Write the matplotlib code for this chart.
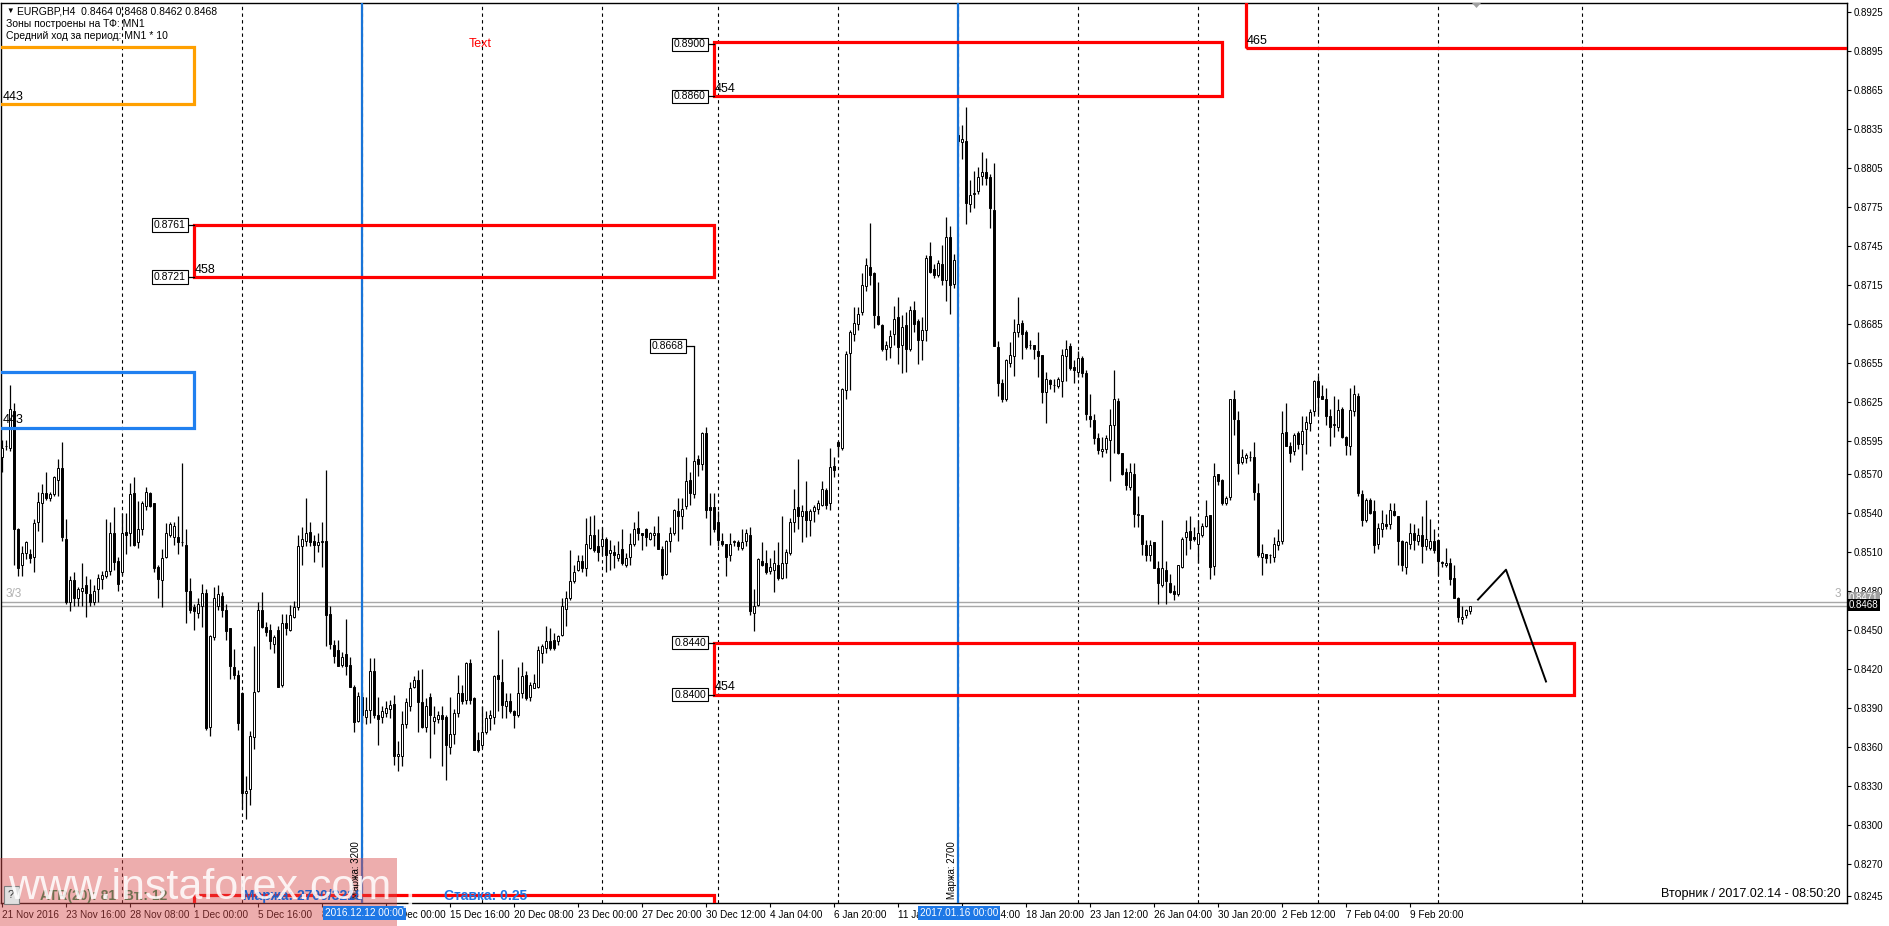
import numpy as np
import matplotlib.pyplot as plt
from matplotlib.patches import Rectangle, Polygon

# EURGBP H4 candles, prices in 1/10000
opens = [8583, 8591, 8590, 8618, 8527, 8500, 8509, 8508, 8506, 8533, 8547, 8555, 8551, 8554, 8565, 8574, 8520, 8471, 8488, 8474,
         8480, 8484, 8477, 8471, 8481, 8489, 8491, 8495, 8524, 8503, 8494, 8525, 8524, 8555, 8517, 8527, 8545, 8555, 8547, 8498,
         8488, 8506, 8523, 8521, 8521, 8517, 8515, 8480, 8467, 8463, 8468, 8478, 8375, 8444, 8468, 8476, 8465, 8451, 8421, 8415,
         8401, 8324, 8327, 8367, 8403, 8465, 8452, 8450, 8439, 8450, 8407, 8455, 8450, 8460, 8467, 8514, 8518, 8525, 8518, 8515,
         8517, 8518, 8462, 8438, 8434, 8423, 8431, 8423, 8406, 8380, 8398, 8383, 8388, 8418, 8384, 8383, 8386, 8389, 8393, 8353,
         8353, 8377, 8391, 8406, 8411, 8394, 8375, 8398, 8380, 8381, 8384, 8383, 8360, 8370, 8386, 8401, 8396, 8424, 8397, 8365,
         8361, 8371, 8382, 8383, 8415, 8410, 8391, 8395, 8387, 8384, 8401, 8415, 8398, 8405, 8406, 8432, 8436, 8441, 8442, 8441,
         8446, 8466, 8474, 8487, 8496, 8503, 8497, 8513, 8523, 8514, 8514, 8520, 8509, 8510, 8505, 8512, 8500, 8506, 8516, 8528,
         8524, 8527, 8520, 8523, 8524, 8512, 8493, 8518, 8524, 8541, 8537, 8545, 8565, 8554, 8581, 8577, 8601, 8544, 8544, 8533,
         8518, 8516, 8507, 8517, 8517, 8513, 8518, 8523, 8463, 8469, 8503, 8501, 8495, 8496, 8500, 8490, 8501, 8509, 8533, 8544,
         8537, 8541, 8534, 8541, 8543, 8546, 8557, 8547, 8576, 8594, 8590, 8634, 8663, 8677, 8685, 8694, 8714, 8729, 8724, 8691,
         8684, 8666, 8667, 8677, 8690, 8669, 8684, 8666, 8696, 8687, 8673, 8680, 8737, 8727, 8723, 8731, 8719, 8752, 8716, 8830,
         8825, 8826, 8777, 8785, 8787, 8799, 8802, 8798, 8773, 8667, 8640, 8627, 8655, 8660, 8679, 8686, 8679, 8669, 8669, 8664,
         8661, 8633, 8642, 8638, 8637, 8641, 8660, 8668, 8652, 8648, 8659, 8647, 8614, 8611, 8597, 8587, 8589, 8596, 8607, 8626,
         8586, 8571, 8560, 8570, 8538, 8538, 8515, 8507, 8517, 8497, 8484, 8496, 8486, 8480, 8477, 8498, 8521, 8526, 8521, 8516,
         8523, 8530, 8538, 8499, 8570, 8565, 8547, 8552, 8627, 8611, 8579, 8582, 8583, 8583, 8555, 8506, 8508, 8507, 8506, 8515,
         8518, 8602, 8591, 8587, 8601, 8593, 8604, 8609, 8618, 8641, 8630, 8627, 8614, 8607, 8606, 8620, 8598, 8591, 8618, 8630,
         8554, 8534, 8550, 8541, 8516, 8527, 8531, 8531, 8541, 8537, 8518, 8498, 8516, 8524, 8518, 8523, 8514, 8513, 8518, 8519,
         8502, 8500, 8501, 8490, 8474, 8458, 8461, 8464]
highs = [8596, 8596, 8638, 8624, 8528, 8514, 8518, 8512, 8535, 8556, 8562, 8571, 8556, 8568, 8581, 8594, 8535, 8491, 8494, 8483,
         8501, 8491, 8489, 8484, 8493, 8495, 8535, 8533, 8544, 8506, 8540, 8540, 8563, 8567, 8549, 8549, 8560, 8556, 8547, 8500,
         8512, 8532, 8533, 8533, 8537, 8578, 8527, 8490, 8470, 8474, 8485, 8481, 8446, 8483, 8484, 8479, 8470, 8451, 8435, 8419,
         8402, 8337, 8372, 8437, 8471, 8479, 8456, 8454, 8446, 8453, 8462, 8462, 8469, 8472, 8523, 8529, 8551, 8533, 8523, 8524,
         8533, 8573, 8468, 8442, 8442, 8433, 8458, 8429, 8407, 8402, 8402, 8398, 8428, 8428, 8398, 8391, 8395, 8396, 8400, 8364,
         8387, 8397, 8410, 8414, 8419, 8420, 8397, 8401, 8391, 8387, 8391, 8384, 8398, 8389, 8415, 8407, 8425, 8427, 8398, 8371,
         8391, 8387, 8388, 8415, 8450, 8427, 8401, 8401, 8388, 8421, 8425, 8418, 8410, 8416, 8437, 8439, 8453, 8451, 8447, 8446,
         8474, 8480, 8511, 8500, 8507, 8507, 8536, 8537, 8538, 8527, 8529, 8521, 8519, 8515, 8518, 8527, 8509, 8524, 8533, 8541,
         8524, 8528, 8525, 8530, 8537, 8514, 8519, 8529, 8543, 8551, 8551, 8583, 8571, 8668, 8584, 8602, 8606, 8555, 8555, 8541,
         8524, 8516, 8524, 8519, 8519, 8527, 8527, 8529, 8481, 8505, 8517, 8511, 8505, 8511, 8517, 8537, 8512, 8536, 8558, 8581,
         8546, 8564, 8543, 8546, 8550, 8564, 8559, 8590, 8583, 8595, 8636, 8664, 8680, 8698, 8698, 8724, 8736, 8763, 8725, 8717,
         8685, 8672, 8680, 8699, 8706, 8692, 8694, 8699, 8703, 8689, 8690, 8738, 8748, 8731, 8734, 8746, 8767, 8760, 8739, 8837,
         8838, 8852, 8796, 8803, 8806, 8817, 8813, 8800, 8809, 8672, 8643, 8658, 8671, 8689, 8706, 8688, 8680, 8673, 8669, 8679,
         8661, 8648, 8643, 8643, 8644, 8666, 8673, 8670, 8657, 8664, 8660, 8650, 8631, 8616, 8601, 8598, 8600, 8620, 8650, 8628,
         8586, 8574, 8578, 8578, 8553, 8538, 8519, 8519, 8517, 8503, 8534, 8503, 8493, 8484, 8500, 8521, 8534, 8537, 8529, 8534,
         8532, 8550, 8538, 8578, 8570, 8566, 8553, 8627, 8634, 8618, 8589, 8586, 8587, 8594, 8563, 8516, 8508, 8508, 8521, 8527,
         8618, 8624, 8594, 8601, 8603, 8614, 8614, 8620, 8642, 8645, 8638, 8636, 8620, 8630, 8627, 8621, 8599, 8636, 8638, 8632,
         8557, 8551, 8551, 8550, 8532, 8542, 8539, 8547, 8547, 8537, 8519, 8518, 8532, 8531, 8528, 8537, 8550, 8535, 8527, 8520,
         8503, 8513, 8505, 8500, 8475, 8468, 8466, 8468]
lows = [8571, 8588, 8587, 8500, 8491, 8491, 8504, 8501, 8494, 8526, 8517, 8550, 8549, 8553, 8553, 8518, 8470, 8464, 8468, 8468,
        8468, 8460, 8468, 8469, 8471, 8481, 8490, 8492, 8496, 8480, 8492, 8508, 8514, 8514, 8513, 8523, 8542, 8544, 8494, 8474,
        8467, 8505, 8521, 8515, 8508, 8514, 8455, 8463, 8450, 8459, 8452, 8373, 8368, 8442, 8465, 8460, 8442, 8412, 8412, 8373,
        8312, 8304, 8315, 8358, 8402, 8451, 8445, 8435, 8432, 8406, 8406, 8446, 8449, 8459, 8465, 8500, 8514, 8514, 8502, 8510,
        8498, 8437, 8435, 8424, 8422, 8421, 8415, 8406, 8371, 8379, 8378, 8377, 8378, 8382, 8361, 8378, 8383, 8382, 8346, 8341,
        8345, 8374, 8387, 8405, 8371, 8374, 8371, 8351, 8370, 8378, 8345, 8334, 8354, 8362, 8383, 8393, 8393, 8393, 8357, 8356,
        8359, 8370, 8373, 8377, 8387, 8382, 8382, 8386, 8374, 8383, 8397, 8396, 8395, 8405, 8405, 8424, 8432, 8434, 8434, 8438,
        8445, 8453, 8473, 8486, 8495, 8494, 8491, 8512, 8510, 8503, 8507, 8494, 8496, 8497, 8503, 8500, 8498, 8500, 8514, 8519,
        8511, 8514, 8519, 8514, 8512, 8489, 8492, 8510, 8523, 8518, 8527, 8543, 8546, 8551, 8568, 8573, 8536, 8515, 8525, 8514,
        8514, 8491, 8503, 8514, 8511, 8511, 8514, 8461, 8449, 8468, 8499, 8493, 8493, 8479, 8488, 8489, 8490, 8507, 8525, 8527,
        8517, 8521, 8522, 8533, 8539, 8545, 8543, 8542, 8567, 8583, 8588, 8627, 8634, 8672, 8680, 8692, 8710, 8715, 8682, 8684,
        8664, 8657, 8659, 8669, 8654, 8647, 8648, 8664, 8679, 8654, 8657, 8672, 8724, 8720, 8721, 8715, 8703, 8693, 8713, 8822,
        8812, 8762, 8771, 8774, 8785, 8792, 8792, 8759, 8668, 8630, 8625, 8626, 8652, 8645, 8675, 8658, 8666, 8666, 8658, 8644,
        8624, 8609, 8635, 8633, 8636, 8629, 8641, 8650, 8640, 8644, 8644, 8611, 8606, 8593, 8585, 8583, 8586, 8564, 8586, 8585,
        8569, 8557, 8557, 8529, 8529, 8507, 8503, 8503, 8497, 8470, 8483, 8470, 8478, 8473, 8476, 8497, 8507, 8512, 8518, 8501,
        8521, 8529, 8489, 8492, 8561, 8546, 8546, 8550, 8600, 8570, 8577, 8578, 8580, 8550, 8506, 8492, 8501, 8501, 8502, 8511,
        8516, 8591, 8579, 8584, 8589, 8573, 8585, 8603, 8614, 8616, 8627, 8607, 8591, 8598, 8603, 8597, 8584, 8584, 8614, 8553,
        8530, 8533, 8539, 8509, 8512, 8521, 8527, 8527, 8537, 8500, 8495, 8493, 8512, 8511, 8515, 8501, 8511, 8511, 8509, 8492,
        8498, 8498, 8484, 8474, 8456, 8454, 8459, 8462]
closes = [8590, 8591, 8620, 8527, 8497, 8509, 8517, 8505, 8532, 8548, 8555, 8551, 8554, 8567, 8574, 8521, 8471, 8488, 8474, 8481,
          8482, 8478, 8471, 8480, 8490, 8492, 8495, 8524, 8502, 8485, 8524, 8523, 8554, 8515, 8527, 8547, 8556, 8545, 8497, 8489,
          8505, 8524, 8531, 8530, 8517, 8517, 8480, 8465, 8464, 8470, 8478, 8374, 8445, 8474, 8477, 8465, 8449, 8422, 8415, 8378,
          8324, 8326, 8368, 8402, 8465, 8452, 8448, 8441, 8444, 8406, 8455, 8451, 8461, 8467, 8514, 8520, 8524, 8517, 8515, 8517,
          8518, 8461, 8439, 8430, 8422, 8429, 8422, 8406, 8379, 8399, 8384, 8388, 8418, 8384, 8381, 8387, 8390, 8392, 8353, 8354,
          8377, 8394, 8405, 8411, 8394, 8375, 8391, 8384, 8383, 8384, 8381, 8361, 8370, 8386, 8401, 8395, 8424, 8396, 8357, 8357,
          8371, 8382, 8384, 8414, 8412, 8392, 8395, 8387, 8384, 8401, 8414, 8397, 8407, 8409, 8434, 8437, 8441, 8436, 8436, 8445,
          8468, 8474, 8487, 8494, 8503, 8497, 8516, 8523, 8511, 8510, 8520, 8507, 8511, 8507, 8508, 8501, 8505, 8516, 8527, 8524,
          8523, 8521, 8524, 8524, 8512, 8492, 8518, 8524, 8542, 8537, 8543, 8564, 8555, 8580, 8577, 8601, 8542, 8542, 8527, 8519,
          8516, 8506, 8516, 8518, 8514, 8517, 8524, 8464, 8468, 8504, 8500, 8494, 8498, 8501, 8490, 8501, 8510, 8533, 8543, 8537,
          8541, 8534, 8541, 8544, 8547, 8558, 8546, 8575, 8573, 8591, 8635, 8662, 8679, 8686, 8693, 8715, 8730, 8723, 8692, 8685,
          8666, 8669, 8676, 8689, 8667, 8683, 8666, 8696, 8685, 8673, 8680, 8736, 8725, 8723, 8732, 8719, 8752, 8715, 8734, 8826,
          8827, 8778, 8784, 8786, 8798, 8802, 8797, 8774, 8668, 8640, 8627, 8657, 8661, 8679, 8685, 8677, 8667, 8669, 8666, 8660,
          8633, 8643, 8639, 8638, 8643, 8661, 8666, 8651, 8650, 8659, 8647, 8616, 8612, 8597, 8588, 8589, 8597, 8607, 8627, 8586,
          8570, 8561, 8571, 8539, 8539, 8516, 8507, 8515, 8497, 8486, 8497, 8487, 8479, 8477, 8500, 8520, 8525, 8519, 8520, 8524,
          8530, 8537, 8498, 8568, 8564, 8547, 8551, 8627, 8612, 8578, 8583, 8584, 8583, 8556, 8507, 8509, 8505, 8507, 8516, 8518,
          8601, 8591, 8586, 8600, 8593, 8603, 8610, 8617, 8641, 8629, 8627, 8614, 8606, 8608, 8619, 8598, 8592, 8619, 8631, 8555,
          8534, 8550, 8540, 8515, 8528, 8532, 8530, 8542, 8538, 8518, 8500, 8517, 8524, 8519, 8523, 8514, 8520, 8518, 8511, 8503,
          8501, 8501, 8489, 8474, 8460, 8460, 8465, 8468]

date_labels = ['21 Nov 2016', '23 Nov 16:00', '28 Nov 08:00', '1 Dec 00:00', '5 Dec 16:00', '8 Dec 08:00',
               '13 Dec 00:00', '15 Dec 16:00', '20 Dec 08:00', '23 Dec 00:00', '27 Dec 20:00', '30 Dec 12:00',
               '4 Jan 04:00', '6 Jan 20:00', '11 Jan 12:00', '16 Jan 04:00', '18 Jan 20:00', '23 Jan 12:00',
               '26 Jan 04:00', '30 Jan 20:00', '2 Feb 12:00', '7 Feb 04:00', '9 Feb 20:00']
week_bars = [30, 60, 90, 120, 150, 179, 209, 239, 269, 299, 329, 359, 395]
price_ticks = [0.8925, 0.8895, 0.8865, 0.8835, 0.8805, 0.8775, 0.8745, 0.8715, 0.8685, 0.8655, 0.8625, 0.8595,
               0.8570, 0.8540, 0.8510, 0.8480, 0.8450, 0.8420, 0.8390, 0.8360, 0.8330, 0.8300, 0.8270, 0.8245]

# supply / demand zones
zone_names = ['443', '443', '458', '454', '454', '465', '']
zone_lo = [0.8854, 0.8605, 0.8721, 0.8860, 0.8400, 0.8897, 0.8000]
zone_hi = [0.8898, 0.8648, 0.8761, 0.8902, 0.8440, 0.8990, 0.8246]
zone_start = [-10, -10, 48, 178, 178, 311, 48]
zone_end = [48, 48, 178, 305, 393, 480, 178]
zone_colors = ['#ffa000', '#2080f0', 'red', 'red', 'red', 'red', 'red']
level_tags = [0.8761, 0.8721, 0.8900, 0.8860, 0.8440, 0.8400]
level_tag_bar = [46, 46, 176, 176, 176, 176]
level_tag_end = [48, 48, 178, 178, 178, 178]

forecast_bar = [369, 376, 386]
forecast_price = [0.8473, 0.8496, 0.8410]
bid, ask = 0.8468, 0.8471

W, H = 1889, 926
fig = plt.figure(figsize=(W / 100, H / 100), dpi=100)
fig.patch.set_facecolor('white')
plt.rcParams['font.family'] = ['Liberation Sans', 'DejaVu Sans']

ax = fig.add_axes([1 / W, (H - 903) / H, 1846 / W, 900 / H])
ax.set_xlim(-0.25, 461.25)
ax.set_ylim(0.823962, 0.893192)

o = np.array(opens) / 10000
h = np.array(highs) / 10000
l = np.array(lows) / 10000
c = np.array(closes) / 10000
x = np.arange(len(o))

for wb in week_bars:
    ax.axvline(wb, color='black', lw=0.8, ls=(0, (3, 3)), zorder=1)

ax.axhline(bid, color='#a8a8a8', lw=1, zorder=1)
ax.axhline(ask, color='#a8a8a8', lw=1, zorder=1)

ax.vlines(x, l, h, color='black', lw=0.9, zorder=3)
up = c >= o
body_lo = np.minimum(o, c)
body_h = np.abs(c - o)
ax.bar(x[up], body_h[up], bottom=body_lo[up], width=0.62, color='white', edgecolor='black', lw=0.7, zorder=4)
ax.bar(x[~up], body_h[~up], bottom=body_lo[~up], width=0.62, color='black', edgecolor='black', lw=0.7, zorder=4)

# blue date lines
for vb in [90, 239]:
    ax.axvline(vb, color='#1874d8', lw=1.6, zorder=5)

for i in range(len(zone_lo)):
    r = Rectangle((zone_start[i], zone_lo[i]), zone_end[i] - zone_start[i], zone_hi[i] - zone_lo[i],
                  fill=False, ec=zone_colors[i], lw=2.3, zorder=6)
    ax.add_patch(r)
    if zone_names[i]:
        ax.text(max(zone_start[i], 0) + 0.1, zone_lo[i] + 0.00012, zone_names[i], fontsize=9,
                ha='left', va='bottom', zorder=7)

for p, xb, xe in zip(level_tags, level_tag_bar, level_tag_end):
    ax.plot([xb, xe], [p, p], color='black', lw=0.9, zorder=6)
    ax.text(xb, p, '%.4f' % p, fontsize=7.5, ha='right', va='center', zorder=7,
            bbox=dict(boxstyle='square,pad=0.18', fc='white', ec='black', lw=0.8))

top_i = int(np.argmax(h[150:200])) + 150
ax.plot([top_i - 2.5, top_i], [h[top_i], h[top_i]], color='black', lw=0.9, zorder=6)
ax.text(top_i - 2.5, h[top_i], '%.4f' % h[top_i], fontsize=7.5, ha='right', va='center', zorder=7,
        bbox=dict(boxstyle='square,pad=0.18', fc='white', ec='black', lw=0.8))

ax.plot(forecast_bar, forecast_price, color='black', lw=1.4, zorder=6)

# axes styling
for s in ax.spines.values():
    s.set_linewidth(1.0)
ax.yaxis.tick_right()
ax.set_yticks(price_ticks)
ax.set_yticklabels(['%.4f' % p for p in price_ticks], fontsize=7)
ax.tick_params(axis='y', direction='out', length=3, width=0.8, pad=2)
ax.set_xticks([16 * k for k in range(len(date_labels))])
ax.set_xticklabels(date_labels, fontsize=7.2, ha='left')
ax.tick_params(axis='x', direction='out', length=3, width=0.8, pad=2)

def fx(px):
    return px / W

def fy(py):
    return 1 - py / H

# header
fig.text(fx(6), fy(11), '\u25bc', fontsize=5.5, va='center')
fig.text(fx(17), fy(11), 'EURGBP,H4  0.8464 0.8468 0.8462 0.8468', fontsize=7.5, va='center')
fig.text(fx(6), fy(24), 'Зоны построены на ТФ: MN1', fontsize=7.5, va='center')
fig.text(fx(6), fy(36), 'Средний ход за период: MN1 * 10', fontsize=7.5, va='center')
fig.text(fx(469), fy(44), 'Text', fontsize=9, color='red', va='center')
fig.text(fx(6), fy(594), '3/3', fontsize=8.5, color='#b0b0b0', va='center')
fig.text(fx(1835), fy(594), '3', fontsize=8.5, color='#b0b0b0', va='center')
fig.add_artist(Polygon([[fx(1472), fy(3)], [fx(1481), fy(3)], [fx(1476.5), fy(8)]], closed=True,
                       fc='#a0a0a0', ec='none', transform=fig.transFigure))

# price tags on the right axis
fig.text(fx(1849), fy(598), '%.4f' % ask, fontsize=7, color='white', va='center',
         bbox=dict(boxstyle='square,pad=0.15', fc='#a0a0a0', ec='none'))
fig.text(fx(1849), fy(605), '%.4f' % bid, fontsize=7, color='white', va='center',
         bbox=dict(boxstyle='square,pad=0.15', fc='black', ec='none'))

# vertical margin notes
fig.text(fx(356), fy(870), 'Маржа: 3200', fontsize=7, rotation=90, ha='center', va='center')
fig.text(fx(952), fy(870), 'Маржа: 2700', fontsize=7, rotation=90, ha='center', va='center')

# bottom panel info
fig.text(fx(8), fy(895), '?', fontsize=8, color='#333333', va='center',
         bbox=dict(boxstyle='square,pad=0.4', fc='#e0e0e0', ec='#808080', lw=0.8))
fig.text(fx(40), fy(896), 'ATR(20): 81  Вт.: 12', fontsize=10, weight='bold', color='#707050', va='center')
fig.text(fx(243), fy(896), 'Маржа: 2700/3218', fontsize=10, weight='bold', color='#2060c8', va='center')
fig.text(fx(444), fy(896), 'Ставка: 0.25', fontsize=10, weight='bold', color='#1e78e6', va='center')
fig.text(fx(1841), fy(894), 'Вторник / 2017.02.14 - 08:50:20', fontsize=9, ha='right', va='center')

# highlighted date tags on the time axis
fig.text(fx(325), fy(913), '2016.12.12 00:00', fontsize=7.2, color='white', va='center',
         bbox=dict(boxstyle='square,pad=0.2', fc='#1e78e6', ec='none'))
fig.text(fx(920), fy(913), '2017.01.16 00:00', fontsize=7.2, color='white', va='center',
         bbox=dict(boxstyle='square,pad=0.2', fc='#1e78e6', ec='none'))

# watermark
fig.add_artist(Rectangle((0, fy(926)), fx(397), fy(858) - fy(926), transform=fig.transFigure,
                         fc='#d84a4a', alpha=0.45, ec='none'))
fig.text(fx(200), fy(888), '[ www.instaforex.com ]', fontsize=31, color='white', alpha=0.85,
         ha='center', va='center')

fig.savefig('out.png', dpi=100)
